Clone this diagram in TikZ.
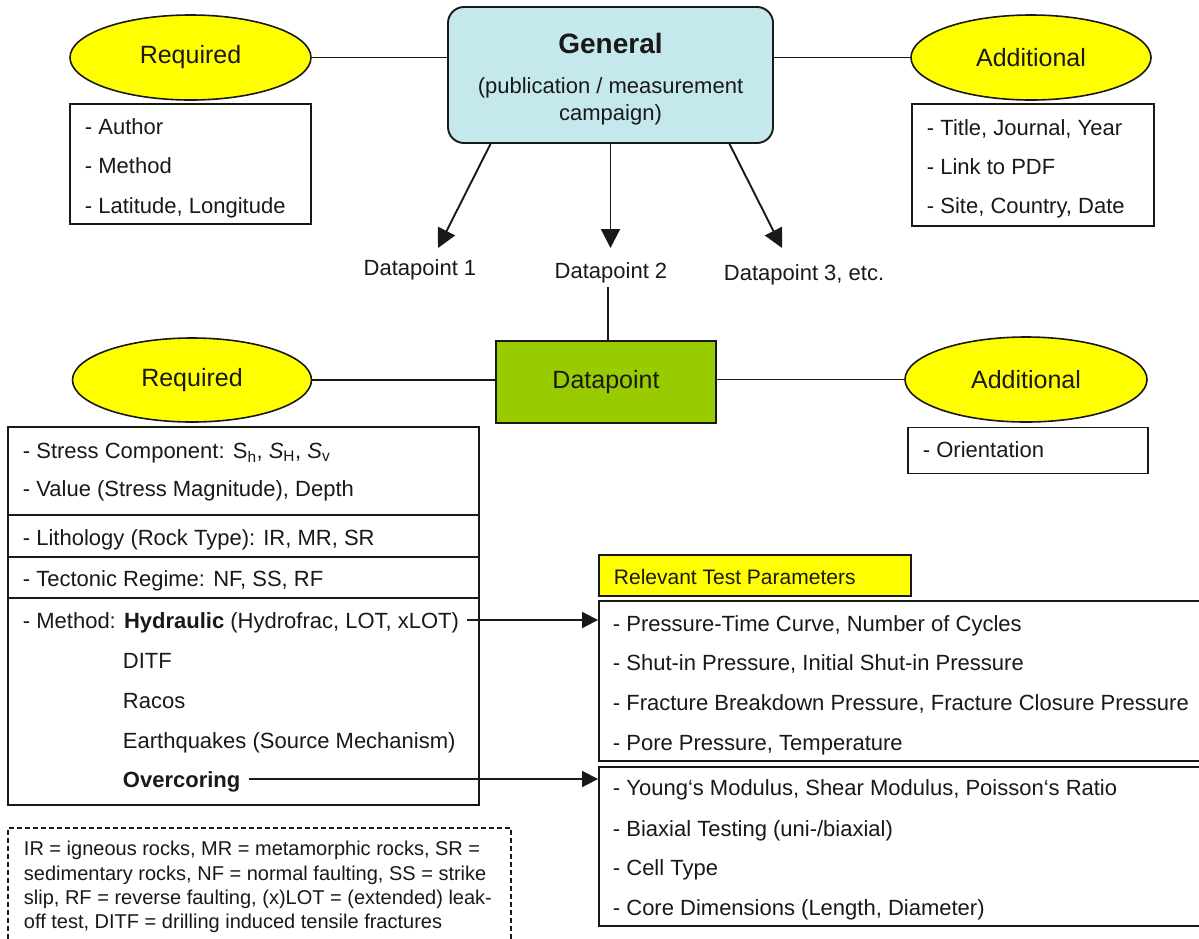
\documentclass[tikz,border=0pt]{standalone}
\usepackage{fontspec}
\setmainfont{Liberation Sans}
\usetikzlibrary{shapes.geometric,arrows.meta}
\definecolor{genblue}{RGB}{196,232,236}
\definecolor{dpgreen}{RGB}{153,204,0}
\definecolor{ellyellow}{RGB}{255,255,0}
\definecolor{ink}{RGB}{25,25,25}
\begin{document}
\begin{tikzpicture}[x=1pt,y=-1pt,line width=1.9pt,draw=ink,text=ink,
  ell/.style={ellipse,draw,fill=ellyellow,inner sep=0pt,line width=1.6pt,font=\fontsize{25}{30}\selectfont},
  box/.style={rectangle,draw,inner sep=0pt},
  ln/.style={anchor=base west,inner sep=0pt,font=\fontsize{22}{26}\selectfont},
  sm/.style={anchor=base west,inner sep=0pt,font=\fontsize{20}{24}\selectfont},
  lbl/.style={inner sep=0pt,font=\fontsize{22}{26}\selectfont},
  arr/.style={-{Triangle[length=19pt,width=19pt]},line width=1.9pt},
  harr/.style={-{Triangle[length=16pt,width=16pt]},line width=1.9pt}]
\useasboundingbox (0,0) rectangle (1199,938);
\clip (0,0) rectangle (1199,938);
\fill[white] (0,0) rectangle (1199,938);

% ---------- top level ----------
\node[draw,fill=genblue,rounded corners=16pt,minimum width=325pt,minimum height=136pt,inner sep=0pt] (gen) at (610.5,75) {};
\node[lbl,font=\fontsize{28}{32}\selectfont\bfseries] (gent) at (610.5,43) {General};
\node[lbl] (gen2) at (610.5,88) {(publication / measurement};
\node[lbl] (gen3) at (610.5,115) {campaign)};

\node[ell,minimum width=241pt,minimum height=85pt] (req1) at (190.5,57.5) {Required};
\node[ell,minimum width=240pt,minimum height=85pt] (add1) at (1031,57.5) {Additional};
\draw (req1.east) -- (req1.east -| gen.west);
\draw (gen.east |- add1.west) -- (add1.west);

\node[box,minimum width=241pt,minimum height=120pt] (authbox) at (190.5,164) {};
\node[ln] (a1) at (84,134) {- Author};
\node[ln] (a2) at (84,173) {- Method};
\node[ln] (a3) at (84,213) {- Latitude, Longitude};

\node[box,minimum width=242pt,minimum height=122pt] (addbox) at (1033,165) {};
\node[ln] (b1) at (926,135) {- Title, Journal, Year};
\node[ln] (b2) at (926,174) {- Link to PDF};
\node[ln] (b3) at (926,213) {- Site, Country, Date};

% ---------- datapoint arrows ----------
\coordinate (t1) at (438,248);
\coordinate (t2) at (610.5,248);
\coordinate (t3) at (782,248);
\draw[arr] ([xshift=-120pt]gen.south) -- (t1);
\draw[arr] (gen.south) -- (t2);
\draw[arr] ([xshift=119pt]gen.south) -- (t3);
\node[lbl] (dp1) at (420,270) {Datapoint 1};
\node[lbl] (dp2) at (611,273) {Datapoint 2};
\node[lbl,anchor=west] (dp3) at (723,275) {Datapoint 3, etc.};

% ---------- datapoint level ----------
\node[box,fill=dpgreen,minimum width=220pt,minimum height=82pt,font=\fontsize{25}{30}\selectfont] (dpbox) at (606,382) {Datapoint};
\coordinate (dpl) at (608,287);
\draw (dpl) -- (dpl |- dpbox.north);

\node[ell,minimum width=239pt,minimum height=84pt] (req2) at (192,380) {Required};
\node[ell,minimum width=242pt,minimum height=85pt] (add2) at (1026,379.5) {Additional};
\draw (req2.east) -- (req2.east -| dpbox.west);
\draw (dpbox.east |- add2.west) -- (add2.west);

\node[box,minimum width=240pt,minimum height=46pt] (orbox) at (1028,450.5) {};
\node[ln] (o1) at (922,457) {- Orientation};

% ---------- required datapoint box ----------
\node[box,minimum width=471pt,minimum height=378pt] (rbox) at (243.5,616) {};
\draw (rbox.west |- 0,515) -- (rbox.east |- 0,515);
\draw (rbox.west |- 0,557) -- (rbox.east |- 0,557);
\draw (rbox.west |- 0,598) -- (rbox.east |- 0,598);
\node[ln] (r1) at (22,458) {- Stress Component: S\textsubscript{h}, \textit{S}\textsubscript{H}, \textit{S}\textsubscript{v}};
\node[ln] (r2) at (22,496) {- Value (Stress Magnitude), Depth};
\node[ln] (r3) at (22,545) {- Lithology (Rock Type): IR, MR, SR};
\node[ln] (r4) at (22,586) {- Tectonic Regime: NF, SS, RF};
\node[ln] (r5) at (22,628) {- Method: \textbf{Hydraulic} (Hydrofrac, LOT, xLOT)};
\node[ln] (r6) at (122,668) {DITF};
\node[ln] (r7) at (122,708) {Racos};
\node[ln] (r8) at (122,748) {Earthquakes (Source Mechanism)};
\node[ln] (r9) at (122,787) {\textbf{Overcoring}};

% ---------- test parameters ----------
\node[box,fill=ellyellow,minimum width=312pt,minimum height=41pt] (relbox) at (755,575.5) {};
\node[ln,font=\fontsize{21}{25}\selectfont] (relt) at (613,584) {Relevant Test Parameters};

\node[box,minimum width=640pt,minimum height=160pt] (hbox) at (919,681) {};
\node[ln] (h1) at (612,631) {- Pressure-Time Curve, Number of Cycles};
\node[ln] (h2) at (612,670) {- Shut-in Pressure, Initial Shut-in Pressure};
\node[ln] (h3) at (612,710) {- Fracture Breakdown Pressure, Fracture Closure Pressure};
\node[ln] (h4) at (612,750) {- Pore Pressure, Temperature};

\node[box,minimum width=640pt,minimum height=159pt] (obox) at (919,846.5) {};
\node[ln] (c1) at (612,795) {- Young‘s Modulus, Shear Modulus, Poisson‘s Ratio};
\node[ln] (c2) at (612,836) {- Biaxial Testing (uni-/biaxial)};
\node[ln] (c3) at (612,875) {- Cell Type};
\node[ln] (c4) at (612,915) {- Core Dimensions (Length, Diameter)};

\coordinate (hs) at (467,620);
\draw[harr] (hs) -- (hs -| hbox.west);
\coordinate (os) at (249,779);
\draw[harr] (os) -- (os -| obox.west);

% ---------- legend ----------
\node[box,dash pattern=on 5pt off 3pt,line width=1.6pt,minimum width=503pt,minimum height=120pt] (leg) at (259.5,888) {};
\node[sm] (l1) at (23,855) {IR = igneous rocks, MR = metamorphic rocks, SR =};
\node[sm] (l2) at (23,880) {sedimentary rocks, NF = normal faulting, SS = strike};
\node[sm] (l3) at (23,904) {slip, RF = reverse faulting, (x)LOT = (extended) leak-};
\node[sm] (l4) at (23,928) {off test, DITF = drilling induced tensile fractures};
\end{tikzpicture}
\end{document}
